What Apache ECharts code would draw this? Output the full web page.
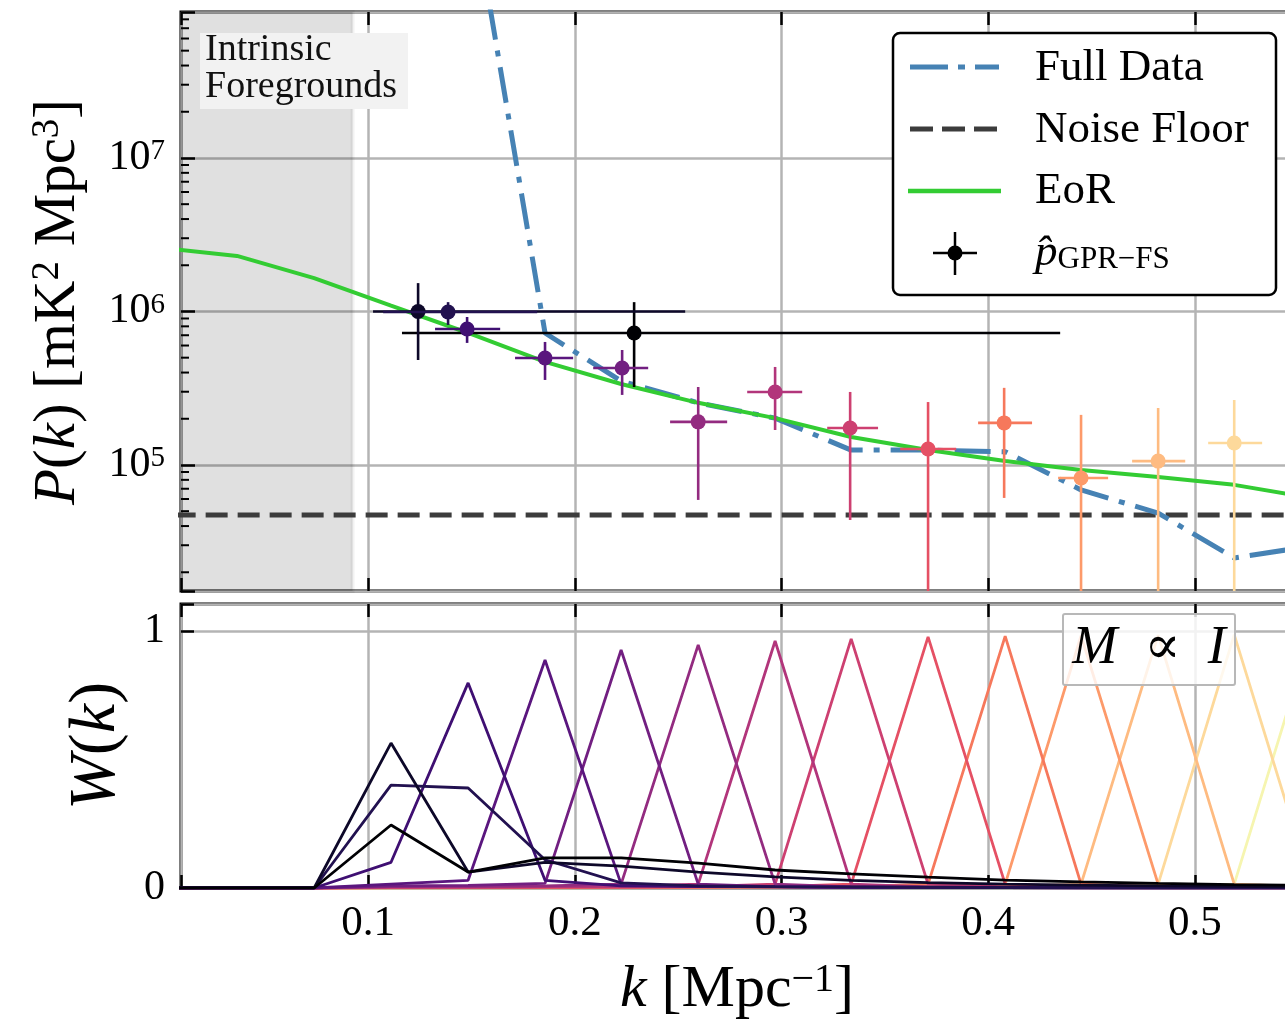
<!DOCTYPE html>
<html><head><meta charset="utf-8">
<script src="https://cdn.jsdelivr.net/npm/echarts@6/dist/echarts.min.js"></script>
<style>html,body{margin:0;padding:0;background:#fff}#c{width:1285px;height:1027px}</style>
</head><body><div id="c"></div>
<script>
// ---------------- data ----------------
const xMin = 0.0095, xMax = 0.5455;
const pMin = 1.51e4, pMax = 8.93e7;
const wMin = 0, wMax = 1.105;
const foregroundEdge = 0.0925;
const noiseFloor = 4.72e4;

const eorK = [0.0, 0.0366, 0.0739, 0.1111, 0.1484, 0.1856, 0.2224, 0.2597, 0.2969, 0.3337, 0.3709, 0.4082, 0.4449, 0.4822, 0.5190, 0.5562];
const eorP = [2.6e6, 2.30e6, 1.65e6, 1.09e6, 7.24e5, 4.69e5, 3.37e5, 2.54e5, 2.02e5, 1.52e5, 1.25e5, 1.06e5, 9.27e4, 8.35e4, 7.42e4, 6.1e4];

const fullK = [0.1484, 0.1856, 0.2224, 0.2597, 0.2969, 0.3337, 0.3709, 0.4082, 0.4449, 0.4822, 0.5190, 0.5562];
const fullP = [6.67e8, 7.24e5, 3.52e5, 2.54e5, 2.02e5, 1.25e5, 1.25e5, 1.22e5, 6.88e4, 4.86e4, 2.48e4, 2.96e4];

// GPR-FS estimates (order follows colour order)
const ptK   = [0.2287, 0.1242, 0.1387, 0.1479, 0.1856, 0.2229, 0.2597, 0.2969, 0.3332, 0.3709, 0.4077, 0.4449, 0.4822, 0.5190];
const ptKLo = [0.1164, 0.1024, 0.1073, 0.1324, 0.1711, 0.2089, 0.2461, 0.2834, 0.3221, 0.3574, 0.3951, 0.4338, 0.4696, 0.5064];
const ptKHi = [0.4348, 0.2534, 0.1818, 0.1639, 0.1992, 0.2355, 0.2737, 0.3100, 0.3467, 0.3845, 0.4212, 0.4580, 0.4953, 0.5325];
const ptP   = [7.24e5, 1.0e6, 9.93e5, 7.69e5, 4.98e5, 4.28e5, 1.91e5, 2.99e5, 1.74e5, 1.27e5, 1.88e5, 8.22e4, 1.06e5, 1.39e5];
const ptPLo = [3.22e5, 4.83e5, 8.17e5, 6.24e5, 3.58e5, 2.86e5, 5.92e4, 1.69e5, 4.38e4, 0, 6.1e4, 0, 0, 0];
const ptPHi = [1.15e6, 1.53e6, 1.15e6, 9.2e5, 6.33e5, 5.61e5, 3.22e5, 4.35e5, 2.99e5, 2.57e5, 3.18e5, 2.12e5, 2.35e5, 2.65e5];

// window functions
const kW = [0.0, 0.0366, 0.0739, 0.1111, 0.1484, 0.1856, 0.2224, 0.2597, 0.2969, 0.3337, 0.3709, 0.4082, 0.4449, 0.4822, 0.5190, 0.5562, 0.5934];
const wC = [0, 0, 0, 0.245, 0.062, 0.117, 0.117, 0.097, 0.070, 0.055, 0.042, 0.031, 0.024, 0.018, 0.013, 0.010, 0.008];
const wA = [0, 0, 0, 0.564, 0.062, 0.100, 0.085, 0.062, 0.043, 0.030, 0.021, 0.015, 0.011, 0.008, 0.006, 0.004, 0.003];
const wB = [0, 0, 0, 0.400, 0.389, 0.110, 0.020, 0.008, 0.005, 0.004, 0.003, 0.002, 0.002, 0.001, 0.001, 0.001, 0.001];
const wD = [0, 0, 0, 0.100, 0.798, 0.030, 0.008, 0.005, 0.004, 0.003, 0.002, 0.002, 0.001, 0.001, 0.001, 0.001, 0.001];
const wE = [0, 0, 0, 0.015, 0.030, 0.887, 0.015, 0.006, 0.004, 0.003, 0.002, 0.002, 0.001, 0.001, 0.001, 0.001, 0.001];
const wF = [0, 0, 0, 0.008, 0.010, 0.018, 0.926, 0.015, 0.005, 0.003, 0.002, 0.002, 0.001, 0.001, 0.001, 0.001, 0.001];
const wG = [0, 0, 0, 0.005, 0.006, 0.008, 0.015, 0.946, 0.015, 0.004, 0.003, 0.002, 0.001, 0.001, 0.001, 0.001, 0.001];
const wH = [0, 0, 0, 0.004, 0.004, 0.005, 0.006, 0.015, 0.961, 0.015, 0.004, 0.002, 0.002, 0.001, 0.001, 0.001, 0.001];
const wI = [0, 0, 0, 0.003, 0.003, 0.004, 0.004, 0.005, 0.015, 0.969, 0.015, 0.004, 0.002, 0.002, 0.001, 0.001, 0.001];
const wJ = [0, 0, 0, 0.002, 0.003, 0.003, 0.003, 0.004, 0.005, 0.015, 0.977, 0.015, 0.004, 0.002, 0.002, 0.001, 0.001];
const wK = [0, 0, 0, 0.002, 0.002, 0.002, 0.003, 0.003, 0.004, 0.005, 0.015, 0.980, 0.015, 0.004, 0.002, 0.002, 0.001];
const wL = [0, 0, 0, 0.001, 0.002, 0.002, 0.002, 0.003, 0.003, 0.004, 0.005, 0.015, 0.982, 0.015, 0.004, 0.002, 0.002];
const wM = [0, 0, 0, 0.001, 0.001, 0.002, 0.002, 0.002, 0.003, 0.003, 0.004, 0.005, 0.015, 0.984, 0.015, 0.004, 0.002];
const wN = [0, 0, 0, 0.001, 0.001, 0.001, 0.002, 0.002, 0.002, 0.003, 0.003, 0.004, 0.005, 0.015, 0.986, 0.015, 0.004];
const wO = [0, 0, 0, 0.001, 0.001, 0.001, 0.001, 0.002, 0.002, 0.002, 0.003, 0.003, 0.004, 0.005, 0.015, 0.988, 0.015];
const windows = [wC, wA, wB, wD, wE, wF, wG, wH, wI, wJ, wK, wL, wM, wN, wO];

const colors = ['#000004', '#0d0829', '#221150', '#3f0f72', '#5a167e', '#721f81', '#932b80', '#b2357b',
                '#cd4071', '#e55064', '#f6785c', '#fd9a6a', '#febb81', '#fdd99b', '#f6f5b0'];

const yDecades = [1e4, 1e5, 1e6, 1e7];
const minorMult = [2, 3, 4, 5, 6, 7, 8, 9];

// ---------------- styling ----------------
const FONT = '"Liberation Serif", "DejaVu Serif", serif';
const GRID_C = '#b4b4b4';
const minorTicks = [];
yDecades.forEach(d => minorMult.forEach(m => { const v = d * m; if (v > pMin && v < pMax) minorTicks.push(v); }));

const chart = echarts.init(document.getElementById('c'), null, {renderer: 'canvas'});

function xAxisCfg(gridIndex, pos, labels, split) {
  return {
    type: 'value', gridIndex, position: pos, min: xMin, max: xMax, splitNumber: 5,
    axisLine: {show: false},
    axisTick: {show: true, inside: true, length: 13, lineStyle: {color: '#000', width: 2.5}},
    splitLine: {show: split, lineStyle: {color: GRID_C, width: 2.5}},
    axisLabel: {
      show: labels, margin: 14, color: '#000', fontFamily: FONT, fontSize: 43,
      formatter: v => { const r = Math.round(v * 10) / 10; return (Math.abs(v - r) < 1e-6 && r > 0) ? r.toFixed(1) : ''; }
    }
  };
}

const richTick = {
  b: {fontFamily: FONT, fontSize: 42, lineHeight: 42, color: '#000'},
  s: {fontFamily: FONT, fontSize: 29, lineHeight: 22, verticalAlign: 'top', color: '#000'}
};

const series = [];

// shaded foreground region + noise floor
series.push({
  type: 'line', xAxisIndex: 0, yAxisIndex: 0, symbol: 'none', z: 3,
  data: [[xMin - 0.05, noiseFloor], [xMax + 0.05, noiseFloor]],
  lineStyle: {color: '#3c3c3c', width: 5, type: [22, 10]},
  markArea: {
    silent: true, z: 1,
    itemStyle: {color: 'rgba(0,0,0,0.12)', borderColor: 'rgba(0,0,0,0.05)', borderWidth: 4},
    data: [[{xAxis: xMin - 0.01}, {xAxis: foregroundEdge}]]
  }
});
// Full data
series.push({
  type: 'line', xAxisIndex: 0, yAxisIndex: 0, symbol: 'none', z: 4,
  data: fullK.map((k, i) => [k, fullP[i]]),
  lineStyle: {color: '#4682b4', width: 5, type: [36, 11, 6, 11]}
});
// EoR
series.push({
  type: 'line', xAxisIndex: 0, yAxisIndex: 0, symbol: 'none', z: 5,
  data: eorK.map((k, i) => [k, eorP[i]]),
  lineStyle: {color: '#33cc33', width: 4}
});
// error bars
series.push({
  type: 'custom', xAxisIndex: 0, yAxisIndex: 0, z: 6,
  encode: {x: [0], y: [1]},
  data: ptK.map((k, i) => [k, ptP[i], ptKLo[i], ptKHi[i], ptPLo[i], ptPHi[i]]),
  renderItem: function (params, api) {
    const i = params.dataIndex;
    const cs = params.coordSys;
    const c = api.coord([api.value(0), api.value(1)]);
    const l = api.coord([api.value(2), api.value(1)]);
    const r = api.coord([api.value(3), api.value(1)]);
    const loV = api.value(4);
    const lo = loV > 0 ? api.coord([api.value(0), loV])[1] : cs.y + cs.height;
    const hi = api.coord([api.value(0), api.value(5)])[1];
    const col = colors[i];
    return {type: 'group', children: [
      {type: 'line', shape: {x1: l[0], y1: c[1], x2: r[0], y2: c[1]}, style: {stroke: col, lineWidth: 2.6}},
      {type: 'line', shape: {x1: c[0], y1: hi, x2: c[0], y2: Math.min(lo, cs.y + cs.height)}, style: {stroke: col, lineWidth: 2.6}},
      {type: 'circle', shape: {cx: c[0], cy: c[1], r: 7.5}, style: {fill: col}}
    ]};
  }
});
// minor log ticks on left spine
series.push({
  type: 'custom', xAxisIndex: 0, yAxisIndex: 0, z: 7, silent: true,
  encode: {x: [0], y: [1]},
  data: minorTicks.map(v => [xMin, v]),
  renderItem: function (params, api) {
    const cs = params.coordSys;
    const p = api.coord([api.value(0), api.value(1)]);
    return {type: 'line', shape: {x1: cs.x, y1: p[1], x2: cs.x + 8, y2: p[1]}, style: {stroke: '#000', lineWidth: 2}};
  }
});
// window functions (darker curves drawn on top)
windows.forEach((w, j) => {
  series.push({
    type: 'line', xAxisIndex: 2, yAxisIndex: 1, symbol: 'none', z: 4 - j * 0.05,
    data: kW.map((k, i) => [k, w[i]]),
    lineStyle: {color: colors[j], width: 2.8}
  });
});

const titleRich = (size) => ({
  r: {fontFamily: FONT, fontSize: size, lineHeight: size, color: '#000'},
  i: {fontFamily: FONT, fontSize: size, lineHeight: size, fontStyle: 'italic', color: '#000'},
  sup: {fontFamily: FONT, fontSize: Math.round(size * 0.66), lineHeight: Math.round(size * 0.5), verticalAlign: 'top', color: '#000'}
});

function txt(x, y, text, rich, rot, extra) {
  return Object.assign({
    type: 'text', x, y, rotation: rot || 0, z: 50,
    style: {text, rich, align: 'center', verticalAlign: 'middle', textAlign: 'center', textVerticalAlign: 'middle'}
  }, extra || {});
}

const legFont = 45;
const legRich = {
  r: {fontFamily: FONT, fontSize: legFont, lineHeight: legFont, color: '#000'},
  i: {fontFamily: FONT, fontSize: legFont, lineHeight: legFont, fontStyle: 'italic', color: '#000'},
  sub: {fontFamily: FONT, fontSize: 31, lineHeight: 24, verticalAlign: 'bottom', color: '#000'}
};
function legText(y, text) {
  return {type: 'text', x: 1035, y, z: 60,
    style: {text, rich: legRich, align: 'left', verticalAlign: 'middle', textAlign: 'left', textVerticalAlign: 'middle'}};
}

const graphic = [
  // Intrinsic foregrounds label
  {type: 'rect', z: 40, shape: {x: 200, y: 33, width: 208, height: 76}, style: {fill: '#f2f2f2'}},
  {type: 'text', x: 205, y: 50, z: 41, style: {text: 'Intrinsic', fontFamily: FONT, fontSize: 38, fill: '#111', align: 'left', verticalAlign: 'middle', textAlign: 'left', textVerticalAlign: 'middle'}},
  {type: 'text', x: 205, y: 87, z: 41, style: {text: 'Foregrounds', fontFamily: FONT, fontSize: 38, fill: '#111', align: 'left', verticalAlign: 'middle', textAlign: 'left', textVerticalAlign: 'middle'}},
  // M ∝ I label
  {type: 'rect', z: 40, shape: {x: 1063, y: 614, width: 172, height: 71, r: 2}, style: {fill: 'rgba(255,255,255,0.82)', stroke: '#b8b8b8', lineWidth: 2}},
  txt(1149, 649, '{i|M}{r|\u2002\u221d\u2002}{i|I}', titleRich(54), 0, {z: 41}),
  // legend
  {type: 'rect', z: 55, shape: {x: 893, y: 33, width: 383, height: 262, r: 7}, style: {fill: '#fff', stroke: '#000', lineWidth: 2.5}},
  {type: 'line', z: 56, shape: {x1: 910, y1: 67, x2: 999, y2: 67}, style: {stroke: '#4682b4', lineWidth: 5, lineDash: [38, 10, 7, 10]}},
  {type: 'line', z: 56, shape: {x1: 910, y1: 129, x2: 998, y2: 129}, style: {stroke: '#3c3c3c', lineWidth: 5, lineDash: [23, 9]}},
  {type: 'line', z: 56, shape: {x1: 908, y1: 191, x2: 1001, y2: 191}, style: {stroke: '#33cc33', lineWidth: 4.5}},
  {type: 'line', z: 56, shape: {x1: 933, y1: 253, x2: 977, y2: 253}, style: {stroke: '#000', lineWidth: 2.5}},
  {type: 'line', z: 56, shape: {x1: 955, y1: 232, x2: 955, y2: 275}, style: {stroke: '#000', lineWidth: 2.5}},
  {type: 'circle', z: 56, shape: {cx: 955, cy: 253, r: 7.5}, style: {fill: '#000'}},
  legText(68, '{r|Full Data}'),
  legText(130, '{r|Noise Floor}'),
  legText(191, '{r|EoR}'),
  legText(253, '{i|p\u0302}{sub|GPR\u2212FS}'),
  // axis titles
  txt(58, 302, '{i|P}{r|(}{i|k}{r|) [mK}{sup|2}{r| Mpc}{sup|3}{r|]}', titleRich(59), Math.PI / 2),
  txt(97, 746, '{i|W}{r|(}{i|k}{r|)}', titleRich(66), Math.PI / 2),
  txt(737, 990, '{i|k}{r| [Mpc}{sup|\u22121}{r|]}', titleRich(60), 0)
];

const option = {
  animation: false,
  backgroundColor: '#fff',
  grid: [
    {left: 181, top: 12, width: 1108, height: 579, show: true, borderColor: '#000', borderWidth: 3, backgroundColor: 'transparent', containLabel: false, outerBoundsMode: 'none'},
    {left: 181, top: 604, width: 1108, height: 284, show: true, borderColor: '#000', borderWidth: 3, backgroundColor: 'transparent', containLabel: false, outerBoundsMode: 'none'}
  ],
  xAxis: [
    xAxisCfg(0, 'bottom', false, true),
    xAxisCfg(0, 'top', false, false),
    xAxisCfg(1, 'bottom', true, true),
    xAxisCfg(1, 'top', false, false)
  ],
  yAxis: [
    {
      type: 'log', logBase: 10, gridIndex: 0, min: pMin, max: pMax, splitNumber: 4,
      axisLine: {show: false},
      axisTick: {show: true, inside: true, length: 14, lineStyle: {color: '#000', width: 2.5}},
      splitLine: {show: true, lineStyle: {color: GRID_C, width: 2.5}},
      minorTick: {show: false},
      axisLabel: {
        margin: 16, rich: richTick,
        formatter: v => {
          const e = Math.log10(v); const r = Math.round(e);
          return Math.abs(e - r) < 1e-6 ? '{b|10}{s|' + r + '}' : '';
        }
      }
    },
    {
      type: 'value', gridIndex: 1, min: wMin, max: wMax, interval: 1,
      axisLine: {show: false},
      axisTick: {show: true, inside: true, length: 13, lineStyle: {color: '#000', width: 2.5}},
      splitLine: {show: true, lineStyle: {color: GRID_C, width: 2.5}},
      axisLabel: {
        margin: 16, color: '#000', fontFamily: FONT, fontSize: 42,
        formatter: v => (Math.abs(v) < 1e-9 ? '0' : (Math.abs(v - 1) < 1e-9 ? '1' : ''))
      }
    }
  ],
  series,
  graphic
};
chart.setOption(option);
</script>
</body></html>
